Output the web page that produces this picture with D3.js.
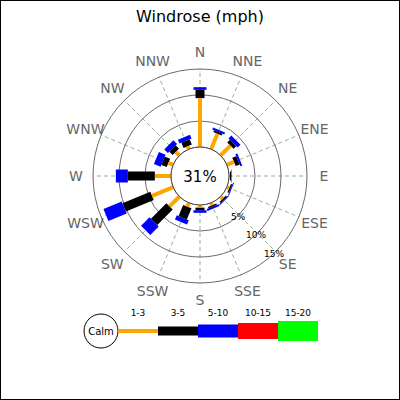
<!DOCTYPE html>
<html><head><meta charset="utf-8">
<script src="https://cdn.jsdelivr.net/npm/d3@7"></script>
<style>body{margin:0;background:#fff}</style></head>
<body><div id="chart"></div>
<script>
// cumulative % per direction: [1-3, 3-5, 5-10]
const directions = ["N","NNE","NE","ENE","E","ESE","SE","SSE","S","SSW","SW","WSW","W","WNW","NW","NNW"];
const speed13 = [9.4, 3.2, 2.7, 1.5, 0.2, 0.5, 0.6, 0.5, 0.5, 0.8, 2.7, 4.4, 3.1, 1.0, 1.0, 0.6];
const speed35 = [11.0, 3.6, 3.4, 2.3, 0.4, 0.8, 0.9, 0.8, 1.0, 3.1, 6.9, 10.2, 8.3, 2.1, 1.9, 1.7];
const speed510 = [11.5, 4.0, 4.2, 2.7, 0.5, 1.0, 1.1, 1.2, 1.5, 4.0, 9.2, 14.0, 10.6, 3.5, 2.9, 2.5];
const rings = [5, 10, 15];
const calm = "31%";
const legendLabels = ["1-3","3-5","5-10","10-15","15-20"];
const colors = ["orange","black","blue","red","#00ff00"];

const W = 400, H = 400, cx = 200, cy = 176;
const svg = d3.select("#chart").append("svg").attr("width", W).attr("height", H)
  .style("font-family", "DejaVu Sans");
svg.append("rect").attr("x",0.5).attr("y",0.5).attr("width",W-1).attr("height",H-1)
  .attr("fill","#fff").attr("stroke","#000");
svg.append("text").attr("x",cx).attr("y",22).attr("text-anchor","middle")
  .attr("font-size",16).text("Windrose (mph)");

const r = d3.scaleLinear().domain([0, 15]).range([29, 107]);
const g = svg.append("g").attr("transform", `translate(${cx},${cy})`);
const ang = i => i * Math.PI / 8;

// spokes
directions.forEach((d, i) => {
  const a = ang(i);
  g.append("line").attr("x1", r(0)*Math.sin(a)).attr("y1", -r(0)*Math.cos(a))
    .attr("x2", r(15)*Math.sin(a)).attr("y2", -r(15)*Math.cos(a))
    .attr("stroke","#5a9a5a").attr("stroke-width",0.7).attr("stroke-dasharray","4,3");
  g.append("text").attr("x", 124*Math.sin(a)).attr("y", -124*Math.cos(a)+5)
    .attr("text-anchor","middle").attr("font-size",14).attr("fill","#666").text(d);
});
g.selectAll("circle.ring").data([0, ...rings]).join("circle")
  .attr("r", d => r(d)).attr("fill","none").attr("stroke","#444").attr("stroke-width",0.8);
rings.forEach(v => {
  const a = 3 * Math.PI / 4 + 0.02;
  g.append("text").attr("x", r(v)*Math.sin(a)).attr("y", -r(v)*Math.cos(a)+4)
    .attr("text-anchor","middle").attr("font-size",9).text(v + "%");
});

// bars
const series = [[0, speed13], [1, speed35], [2, speed510]];
const widths = [4, 9, 13];
directions.forEach((d, i) => {
  for (let k = 2; k >= 0; k--) {
    const from = k === 0 ? 0 : series[k-1][1][i], to = series[k][1][i];
    const gb = g.append("g").attr("transform", `rotate(${i*22.5})`);
    gb.append("rect").attr("x", -widths[k]/2).attr("width", widths[k])
      .attr("y", -r(to)).attr("height", r(to) - r(from)).attr("fill", colors[k]);
  }
});
g.append("circle").attr("r", r(0)).attr("fill","#fff").attr("stroke","#444");
g.append("text").attr("y",6).attr("text-anchor","middle").attr("font-size",15).text(calm);

// legend
const lg = svg.append("g").attr("transform","translate(0,331)");
lg.append("circle").attr("cx",101).attr("r",17).attr("fill","#fff").attr("stroke","#000");
lg.append("text").attr("x",101).attr("y",4).attr("text-anchor","middle").attr("font-size",10).text("Calm");
const lx = d3.scaleBand().domain(legendLabels).range([118, 318]);
const lh = [4, 9, 13, 16, 20];
lg.selectAll("rect.l").data(legendLabels).join("rect")
  .attr("x", d => lx(d)).attr("width", lx.bandwidth())
  .attr("y", (d,i) => -lh[i]/2).attr("height", (d,i) => lh[i]).attr("fill", (d,i) => colors[i]);
lg.selectAll("text.l").data(legendLabels).join("text")
  .attr("x", d => lx(d) + lx.bandwidth()/2).attr("y", -15).attr("text-anchor","middle")
  .attr("font-size",9).text(d => d);
</script></body></html>
